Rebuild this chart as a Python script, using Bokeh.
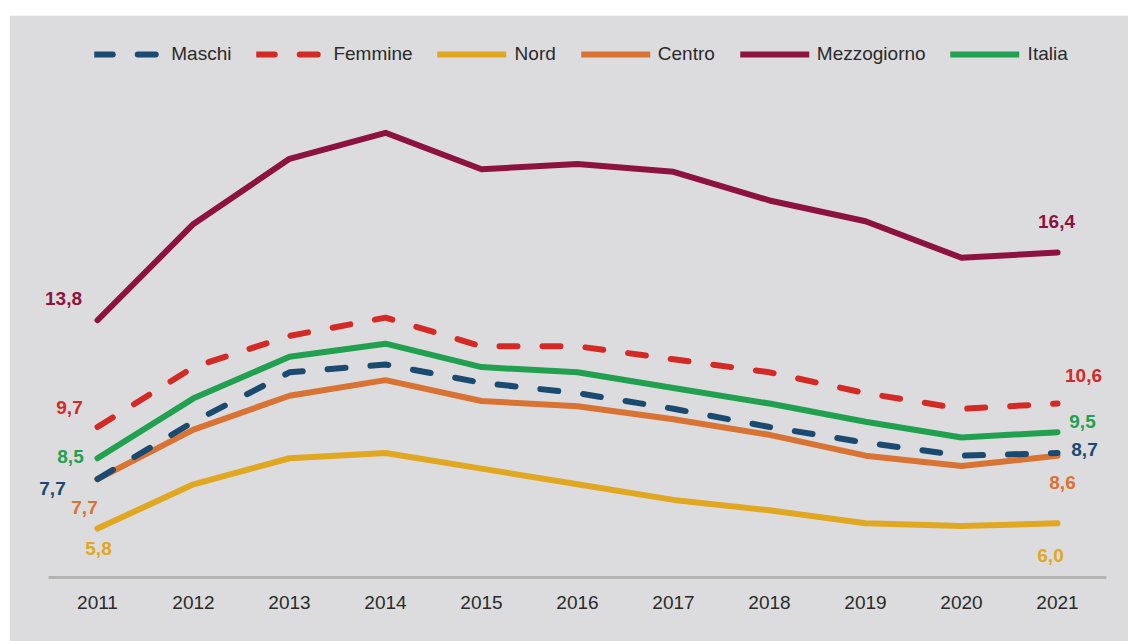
from bokeh.plotting import figure
from bokeh.models import ColumnDataSource, FixedTicker, Legend, LegendItem, Spacer, LabelSet
from bokeh.layouts import column, row
from bokeh.embed import file_html
from bokeh.resources import INLINE
from bokeh.core.properties import value

years = [2011, 2012, 2013, 2014, 2015, 2016, 2017, 2018, 2019, 2020, 2021]

maschi = [7.7, 9.9, 11.8, 12.1, 11.4, 11.0, 10.4, 9.7, 9.1, 8.6, 8.7]
femmine = [9.7, 12.0, 13.2, 13.9, 12.8, 12.8, 12.3, 11.8, 11.0, 10.4, 10.6]
nord = [5.8, 7.5, 8.5, 8.7, 8.1, 7.5, 6.9, 6.5, 6.0, 5.9, 6.0]
centro = [7.7, 9.6, 10.9, 11.5, 10.7, 10.5, 10.0, 9.4, 8.6, 8.2, 8.6]
mezzogiorno = [13.8, 17.5, 20.0, 21.0, 19.6, 19.8, 19.5, 18.4, 17.6, 16.2, 16.4]
italia = [8.5, 10.8, 12.4, 12.9, 12.0, 11.8, 11.2, 10.6, 9.9, 9.3, 9.5]

series_names = ["Maschi", "Femmine", "Nord", "Centro", "Mezzogiorno", "Italia"]

BG = "#dcdcdf"
FONT = "Liberation Sans"

styles = {
    "Maschi": dict(color="#1b4a70", dash="18 25"),
    "Femmine": dict(color="#d42a26", dash="18 25"),
    "Nord": dict(color="#e0a721", dash="solid"),
    "Centro": dict(color="#d87333", dash="solid"),
    "Mezzogiorno": dict(color="#8c1240", dash="solid"),
    "Italia": dict(color="#21a050", dash="solid"),
}

# label offsets (px, screen: +x right, +y down) for first and last point
offsets = {
    "Maschi": ((-45, 9), (27, -4)),
    "Femmine": ((-28, -20), (26, -28)),
    "Nord": ((1, 20), (-7, 32)),
    "Centro": ((-13, 28), (5, 27)),
    "Mezzogiorno": ((-34, -22), (-1, -31)),
    "Italia": ((-27, -2), (25, -11)),
}

data = {
    "Maschi": maschi,
    "Femmine": femmine,
    "Nord": nord,
    "Centro": centro,
    "Mezzogiorno": mezzogiorno,
    "Italia": italia,
}

p = figure(
    width=1119, height=626,
    x_range=(2010.3646, 2021.71875), y_range=(3.92, 25.12),
    output_backend="svg", toolbar_location=None,
    background_fill_color=BG, border_fill_color=BG,
    min_border_left=27, min_border_right=2, min_border_top=10, min_border_bottom=64,
)
p.outline_line_color = BG
p.outline_line_width = 2
p.grid.visible = False
p.yaxis.visible = False

xa = p.xaxis[0]
xa.ticker = FixedTicker(ticks=years)
xa.bounds = (2010.49, 2021.51)
xa.major_tick_line_color = None
xa.minor_tick_line_color = None
xa.axis_line_color = "#b3b3b3"
xa.axis_line_width = 3
xa.major_label_text_font = FONT
xa.major_label_text_font_size = "19px"
xa.major_label_text_color = "#2a2a2a"
xa.major_label_standoff = 12

draw_order = ["Nord", "Centro", "Maschi", "Italia", "Femmine", "Mezzogiorno"]
renderers = {}
for name in draw_order:
    st = styles[name]
    src = ColumnDataSource(dict(x=years, y=data[name]))
    r = p.line("x", "y", source=src, line_color=st["color"], line_width=6,
               line_dash=st["dash"], line_cap="round", line_join="round")
    renderers[name] = r

lx, ly, lt, lc, ldx, ldy = [], [], [], [], [], []
for name in series_names:
    vals = data[name]
    (dx0, dy0), (dx1, dy1) = offsets[name]
    for idx, (dx, dy) in ((0, (dx0, dy0)), (len(years) - 1, (dx1, dy1))):
        lx.append(years[idx])
        ly.append(vals[idx])
        lt.append(f"{vals[idx]:.1f}".replace(".", ","))
        lc.append(styles[name]["color"])
        ldx.append(dx)
        ldy.append(-dy)

lsrc = ColumnDataSource(dict(x=lx, y=ly, t=lt, c=lc, dx=ldx, dy=ldy))
labels = LabelSet(x="x", y="y", text="t", source=lsrc, x_offset="dx", y_offset="dy",
                  text_align="center", text_baseline="middle",
                  text_font=value(FONT), text_font_style="bold", text_font_size="19px",
                  text_color="c")
p.add_layout(labels)

legend = Legend(
    items=[LegendItem(label=n, renderers=[renderers[n]]) for n in series_names],
    orientation="horizontal", location="top_center",
    background_fill_alpha=0, border_line_alpha=0,
    label_text_font=FONT, label_text_font_size="19px", label_text_color="#2a2a2a",
    glyph_width=69, glyph_height=20, label_standoff=8, spacing=25,
    margin=8, padding=10,
)
p.add_layout(legend, "center")

layout = row(Spacer(width=9, height=641), column(Spacer(width=1119, height=15), p))

open("out.html", "w").write(file_html(layout, INLINE))
